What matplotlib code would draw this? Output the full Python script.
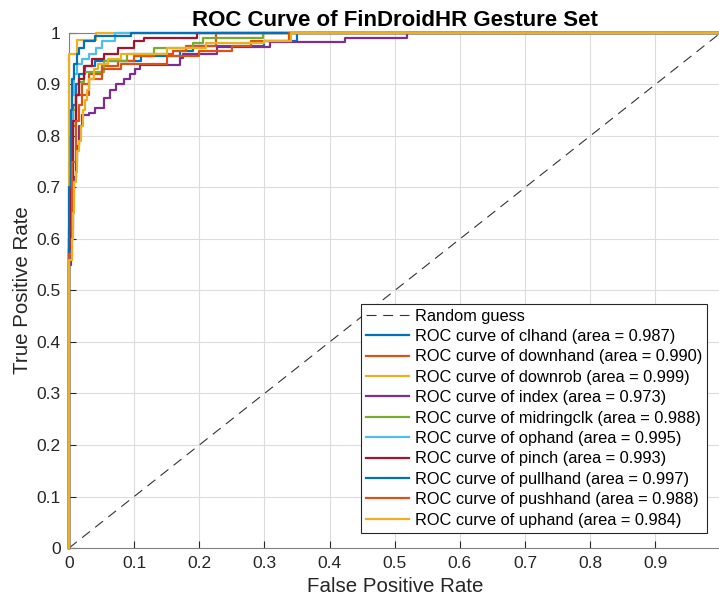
import numpy as np
import matplotlib
matplotlib.use('Agg')
import matplotlib.pyplot as plt

plt.rcParams['font.family'] = ['Liberation Sans', 'DejaVu Sans']

# class names and AUC values from the legend
classes = ['clhand', 'downhand', 'downrob', 'index', 'midringclk',
           'ophand', 'pinch', 'pullhand', 'pushhand', 'uphand']
areas = [0.987, 0.990, 0.999, 0.973, 0.988, 0.995, 0.993, 0.997, 0.988, 0.984]

# ROC step points (fpr, tpr)
fpr_clhand = [0, 0, 0.003, 0.006, 0.010, 0.015, 0.025, 0.040, 0.110, 0.170, 0.190, 0.300, 0.350, 1]
tpr_clhand = [0, 0.62, 0.80, 0.86, 0.90, 0.92, 0.935, 0.945, 0.955, 0.965, 0.975, 0.985, 1.0, 1]

fpr_downhand = [0, 0, 0.005, 0.010, 0.020, 0.030, 0.050, 0.075, 0.100, 0.130, 0.160, 0.180, 0.225, 1]
tpr_downhand = [0, 0.60, 0.82, 0.88, 0.90, 0.92, 0.935, 0.945, 0.955, 0.96, 0.965, 0.975, 1.0, 1]

fpr_downrob = [0, 0, 0.013, 0.041, 1]
tpr_downrob = [0, 0.96, 0.987, 1.0, 1]

fpr_index = [0, 0, 0.003, 0.006, 0.008, 0.011, 0.013, 0.015, 0.020, 0.030, 0.040, 0.053, 0.063,
             0.072, 0.085, 0.094, 0.101, 0.109, 0.170, 0.175, 0.227, 0.309, 0.424, 0.519, 1]
tpr_index = [0, 0.55, 0.62, 0.68, 0.72, 0.75, 0.78, 0.82, 0.84, 0.845, 0.855, 0.873, 0.89,
             0.90, 0.91, 0.92, 0.93, 0.938, 0.951, 0.96, 0.973, 0.983, 0.991, 1.0, 1]

fpr_midringclk = [0, 0, 0.003, 0.006, 0.010, 0.016, 0.023, 0.054, 0.089, 0.130, 0.190, 0.205, 0.298, 1]
tpr_midringclk = [0, 0.58, 0.75, 0.85, 0.88, 0.905, 0.925, 0.945, 0.96, 0.97, 0.98, 0.99, 1.0, 1]

fpr_ophand = [0, 0, 0.002, 0.005, 0.008, 0.012, 0.020, 0.030, 0.041, 0.050, 0.070, 1]
tpr_ophand = [0, 0.60, 0.80, 0.88, 0.92, 0.94, 0.95, 0.96, 0.97, 0.985, 1.0, 1]

fpr_pinch = [0, 0, 0.003, 0.006, 0.010, 0.015, 0.023, 0.035, 0.054, 0.075, 0.100, 0.115, 0.196, 1]
tpr_pinch = [0, 0.58, 0.72, 0.83, 0.88, 0.91, 0.935, 0.95, 0.96, 0.97, 0.984, 0.99, 1.0, 1]

fpr_pullhand = [0, 0, 0.003, 0.005, 0.007, 0.012, 0.015, 0.023, 0.040, 0.095, 1]
tpr_pullhand = [0, 0.70, 0.85, 0.91, 0.94, 0.96, 0.97, 0.984, 0.994, 1.0, 1]

fpr_pushhand = [0, 0, 0.005, 0.010, 0.015, 0.020, 0.030, 0.050, 0.080, 0.150, 0.200, 0.250, 0.280, 0.338, 1]
tpr_pushhand = [0, 0.57, 0.75, 0.83, 0.86, 0.88, 0.91, 0.93, 0.94, 0.955, 0.965, 0.975, 0.985, 1.0, 1]

fpr_uphand = [0, 0, 0.004, 0.006, 0.008, 0.011, 0.013, 0.016, 0.018, 0.021, 0.025, 0.028, 0.030,
              0.038, 0.045, 0.060, 0.080, 0.150, 0.210, 0.300, 0.340, 1]
tpr_uphand = [0, 0.56, 0.60, 0.65, 0.71, 0.73, 0.77, 0.79, 0.82, 0.85, 0.87, 0.89, 0.91,
              0.93, 0.94, 0.95, 0.96, 0.97, 0.98, 0.985, 1.0, 1]

fprs = [fpr_clhand, fpr_downhand, fpr_downrob, fpr_index, fpr_midringclk,
        fpr_ophand, fpr_pinch, fpr_pullhand, fpr_pushhand, fpr_uphand]
tprs = [tpr_clhand, tpr_downhand, tpr_downrob, tpr_index, tpr_midringclk,
        tpr_ophand, tpr_pinch, tpr_pullhand, tpr_pushhand, tpr_uphand]

# matlab default line colours, cycling
colors = ['#0072BD', '#D95319', '#EDB120', '#7E2F8E', '#77AC30',
          '#4DBEEE', '#A2142F', '#0072BD', '#D95319', '#EDB120']

fig = plt.figure(figsize=(7.19, 6.04), dpi=100)
ax = fig.add_axes([0.096, 0.0927, 0.906, 0.8527])

ax.plot([0, 1], [0, 1], color='#333333', linestyle=(0, (9, 6)), linewidth=0.8, label='Random guess')
for i in range(len(classes)):
    ax.plot(fprs[i], tprs[i], drawstyle='steps-post', color=colors[i], linewidth=1.6,
            zorder=3, clip_on=False,
            label='ROC curve of %s (area = %.3f)' % (classes[i], areas[i]))

ax.set_xlim(0, 1)
ax.set_ylim(0, 1)
ax.set_xticks(np.arange(0, 1.01, 0.1))
ax.set_yticks(np.arange(0, 1.01, 0.1))
ax.set_xticklabels(['0', '0.1', '0.2', '0.3', '0.4', '0.5', '0.6', '0.7', '0.8', '0.9', ''])
ax.set_yticklabels(['0', '0.1', '0.2', '0.3', '0.4', '0.5', '0.6', '0.7', '0.8', '0.9', '1'])
ax.tick_params(direction='in', length=5, width=0.8, colors='#262626', labelsize=12.5, pad=6)
ax.grid(True, color='#dcdcdc', linewidth=0.8)
ax.set_axisbelow(True)
for s in ['left', 'bottom', 'top']:
    ax.spines[s].set_color('#808080')
    ax.spines[s].set_linewidth(0.8)
ax.spines['right'].set_visible(False)

ax.set_xlabel('False Positive Rate', fontsize=14.8, color='#262626', labelpad=4)
ax.set_ylabel('True Positive Rate', fontsize=14.8, color='#262626', labelpad=3)
ax.set_title('ROC Curve of FinDroidHR Gesture Set', fontsize=16, fontweight='bold', pad=5)

leg = ax.legend(loc='lower right', bbox_to_anchor=(0.98, 0.03), fontsize=11.8, frameon=True,
                fancybox=False, framealpha=1, edgecolor='#262626', handlelength=2.6,
                labelspacing=0.33, borderpad=0.3, handletextpad=0.4, borderaxespad=0)
leg.get_frame().set_linewidth(0.8)

fig.savefig('out.png', dpi=100)
